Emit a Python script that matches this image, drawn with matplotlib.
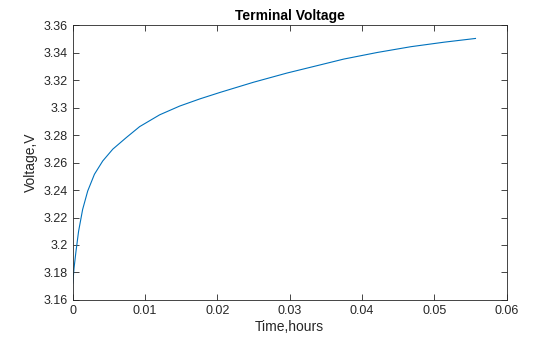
import matplotlib
matplotlib.use('Agg')
import matplotlib.pyplot as plt
from matplotlib.ticker import FuncFormatter

plt.rcParams['font.family'] = ['Liberation Sans', 'DejaVu Sans']

# terminal voltage during charging, time in hours
time_h = [0.0, 0.00017, 0.00044, 0.0008, 0.00136, 0.00206, 0.00299, 0.00414,
          0.00553, 0.00739, 0.00924, 0.01201, 0.01479, 0.01757, 0.02035,
          0.02497, 0.0296, 0.03424, 0.03747, 0.0421, 0.04674, 0.05135, 0.05567]
voltage = [3.1722, 3.1831, 3.1954, 3.2100, 3.2259, 3.2393, 3.2515, 3.2612,
           3.2698, 3.2782, 3.2862, 3.2948, 3.3012, 3.3064, 3.3111,
           3.3185, 3.3252, 3.3312, 3.3354, 3.3402, 3.3444, 3.3477, 3.3504]

xticks = [0, 0.01, 0.02, 0.03, 0.04, 0.05, 0.06]
yticks = [3.16, 3.18, 3.2, 3.22, 3.24, 3.26, 3.28, 3.3, 3.32, 3.34, 3.36]

axcol = '#262626'

fig = plt.figure(figsize=(5.6, 3.37), dpi=100)
ax = fig.add_axes([0.13, 0.11, 0.775, 0.815])
ax.plot(time_h, voltage, color='#0072BD', linewidth=0.8)

ax.set_xlim(0, 0.06)
ax.set_ylim(3.16, 3.36)
ax.set_xticks(xticks)
ax.set_yticks(yticks)
ax.xaxis.set_major_formatter(FuncFormatter(lambda v, p: '%g' % round(v, 4)))
ax.yaxis.set_major_formatter(FuncFormatter(lambda v, p: '%g' % round(v, 4)))
ax.tick_params(direction='in', top=True, right=True, length=4, width=0.6,
               labelsize=9, colors=axcol)
for s in ax.spines.values():
    s.set_color(axcol)
    s.set_linewidth(0.6)

ax.set_title('Terminal Voltage', fontsize=10, fontweight='bold', color='black', pad=4)
ax.set_xlabel('Time,hours', fontsize=10, color=axcol, labelpad=2)
ax.set_ylabel('Voltage,V', fontsize=10, color=axcol, labelpad=4)

fig.savefig('out.png', dpi=100, facecolor='white')
